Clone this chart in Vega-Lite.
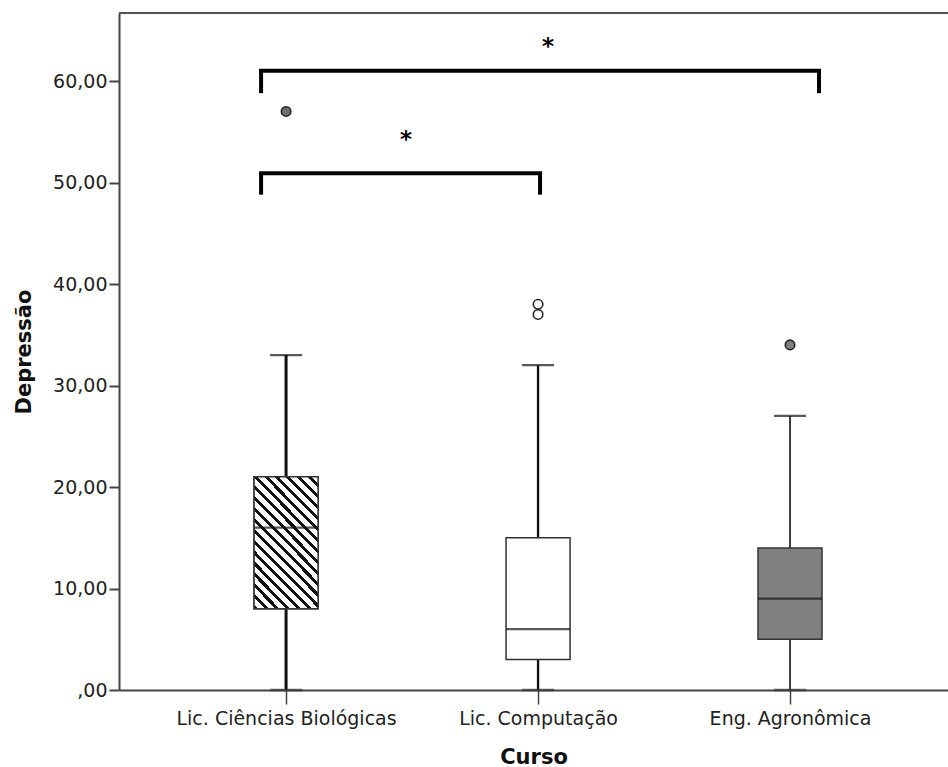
{
  "$schema": "https://vega.github.io/schema/vega-lite/v6.json",
  "width": 829,
  "height": 677,
  "autosize": {"type": "none"},
  "padding": {"left": 119, "top": 13, "right": 0, "bottom": 77},
  "background": "white",
  "resolve": {"scale": {"fill": "independent"}},
  "config": {
    "view": {"stroke": null},
    "axis": {"grid": false},
    "axisX": {
      "domainColor": "#444", "domainWidth": 2,
      "tickColor": "#444", "tickWidth": 1.5, "tickSize": 14,
      "labelFont": "DejaVu Sans", "labelFontSize": 19, "labelColor": "#222", "labelPadding": 5, "labelAngle": 0, "labelLimit": 0,
      "titleFont": "DejaVu Sans", "titleFontSize": 21, "titleFontWeight": "bold", "titleColor": "#111", "titlePadding": 18
    },
    "axisY": {
      "domainColor": "#444", "domainWidth": 2,
      "tickColor": "#444", "tickWidth": 2, "tickSize": 10,
      "labelFont": "DejaVu Sans", "labelFontSize": 19, "labelColor": "#222", "labelPadding": 2,
      "labelExpr": "datum.value === 0 ? ',00' : format(datum.value, 'd') + ',00'",
      "titleFont": "DejaVu Sans", "titleFontSize": 21, "titleFontWeight": "bold", "titleColor": "#111", "titlePadding": 18
    }
  },
  "datasets": {
    "boxes": [
      {"curso": "Lic. Ciências Biológicas", "minimo": 0, "q1": 8, "mediana": 16, "q3": 21, "maximo": 33},
      {"curso": "Lic. Computação", "minimo": 0, "q1": 3, "mediana": 6, "q3": 15, "maximo": 32},
      {"curso": "Eng. Agronômica", "minimo": 0, "q1": 5, "mediana": 9, "q3": 14, "maximo": 27}
    ],
    "outliers": [
      {"curso": "Lic. Ciências Biológicas", "valor": 57, "tipo": "extremo"},
      {"curso": "Lic. Computação", "valor": 37, "tipo": "atípico"},
      {"curso": "Lic. Computação", "valor": 38, "tipo": "atípico"},
      {"curso": "Eng. Agronômica", "valor": 34, "tipo": "atípico"}
    ],
    "brackets": [
      {"curso": "Lic. Ciências Biológicas", "ate": "Eng. Agronômica", "topo": 61, "base": 58.8, "rotulo": "*", "rotulo_y": 62.7},
      {"curso": "Lic. Ciências Biológicas", "ate": "Lic. Computação", "topo": 50.9, "base": 48.8, "rotulo": "*", "rotulo_y": 53.5}
    ]
  },
  "layer": [
    {
      "data": {"name": "boxes"},
      "mark": {"type": "rule", "color": "#555", "strokeWidth": 2},
      "encoding": {
        "y": {"datum": 66.7, "type": "quantitative", "scale": {"domain": [0, 66.7], "nice": false, "zero": true}, "title": "Depressão", "axis": {"values": [0, 10, 20, 30, 40, 50, 60]}}
      }
    },
    {
      "data": {"name": "boxes"},
      "mark": {"type": "rule", "color": "#111"},
      "encoding": {
        "x": {"field": "curso", "type": "nominal", "title": "Curso", "scale": {"type": "point", "domain": ["Lic. Ciências Biológicas", "Lic. Computação", "Eng. Agronômica"], "padding": 0.645, "align": 0.514}},
        "y": {"field": "minimo", "type": "quantitative", "scale": {"domain": [0, 66.7], "nice": false, "zero": true}, "title": "Depressão", "axis": {"values": [0, 10, 20, 30, 40, 50, 60]}},
        "y2": {"field": "maximo"},
        "strokeWidth": {"field": "curso", "type": "nominal", "scale": {"domain": ["Lic. Ciências Biológicas", "Lic. Computação", "Eng. Agronômica"], "range": [3, 1.6, 1.6]}, "legend": null}
      }
    },
    {
      "data": {"name": "boxes"},
      "mark": {"type": "tick", "color": "#111", "size": 32, "thickness": 2.2, "orient": "horizontal"},
      "encoding": {
        "x": {"field": "curso", "type": "nominal", "title": "Curso", "scale": {"type": "point", "domain": ["Lic. Ciências Biológicas", "Lic. Computação", "Eng. Agronômica"], "padding": 0.645, "align": 0.514}},
        "y": {"field": "maximo", "type": "quantitative", "scale": {"domain": [0, 66.7], "nice": false, "zero": true}, "title": "Depressão", "axis": {"values": [0, 10, 20, 30, 40, 50, 60]}}
      }
    },
    {
      "data": {"name": "boxes"},
      "mark": {"type": "tick", "color": "#333", "size": 32, "thickness": 2.5, "orient": "horizontal"},
      "encoding": {
        "x": {"field": "curso", "type": "nominal", "title": "Curso", "scale": {"type": "point", "domain": ["Lic. Ciências Biológicas", "Lic. Computação", "Eng. Agronômica"], "padding": 0.645, "align": 0.514}},
        "y": {"field": "minimo", "type": "quantitative", "scale": {"domain": [0, 66.7], "nice": false, "zero": true}, "title": "Depressão", "axis": {"values": [0, 10, 20, 30, 40, 50, 60]}}
      }
    },
    {
      "data": {"name": "boxes"},
      "mark": {"type": "bar", "size": 64, "stroke": "#333", "strokeWidth": 1.5},
      "encoding": {
        "x": {"field": "curso", "type": "nominal", "title": "Curso", "scale": {"type": "point", "domain": ["Lic. Ciências Biológicas", "Lic. Computação", "Eng. Agronômica"], "padding": 0.645, "align": 0.514}},
        "y": {"field": "q1", "type": "quantitative", "scale": {"domain": [0, 66.7], "nice": false, "zero": true}, "title": "Depressão", "axis": {"values": [0, 10, 20, 30, 40, 50, 60]}},
        "y2": {"field": "q3"},
        "fill": {"field": "curso", "type": "nominal", "scale": {"domain": ["Lic. Ciências Biológicas", "Lic. Computação", "Eng. Agronômica"], "range": ["#ffffff", "#ffffff", "#808080"]}, "legend": null}
      }
    },
    {
      "data": {"name": "boxes"},
      "transform": [{"filter": "datum.curso === 'Lic. Ciências Biológicas'"}],
      "mark": {
        "type": "bar", "size": 64, "stroke": "#333", "strokeWidth": 1.5,
        "fill": {
          "gradient": "linear", "x1": 0, "y1": 1, "x2": 0.59, "y2": -0.2,
          "stops": [
            {"offset": 0, "color": "#111"}, {"offset": 0.0211, "color": "#111"}, {"offset": 0.0211, "color": "#fff"}, {"offset": 0.0556, "color": "#fff"},
            {"offset": 0.0556, "color": "#111"}, {"offset": 0.0767, "color": "#111"}, {"offset": 0.0767, "color": "#fff"}, {"offset": 0.1111, "color": "#fff"},
            {"offset": 0.1111, "color": "#111"}, {"offset": 0.1322, "color": "#111"}, {"offset": 0.1322, "color": "#fff"}, {"offset": 0.1667, "color": "#fff"},
            {"offset": 0.1667, "color": "#111"}, {"offset": 0.1878, "color": "#111"}, {"offset": 0.1878, "color": "#fff"}, {"offset": 0.2222, "color": "#fff"},
            {"offset": 0.2222, "color": "#111"}, {"offset": 0.2433, "color": "#111"}, {"offset": 0.2433, "color": "#fff"}, {"offset": 0.2778, "color": "#fff"},
            {"offset": 0.2778, "color": "#111"}, {"offset": 0.2989, "color": "#111"}, {"offset": 0.2989, "color": "#fff"}, {"offset": 0.3333, "color": "#fff"},
            {"offset": 0.3333, "color": "#111"}, {"offset": 0.3544, "color": "#111"}, {"offset": 0.3544, "color": "#fff"}, {"offset": 0.3889, "color": "#fff"},
            {"offset": 0.3889, "color": "#111"}, {"offset": 0.41, "color": "#111"}, {"offset": 0.41, "color": "#fff"}, {"offset": 0.4444, "color": "#fff"},
            {"offset": 0.4444, "color": "#111"}, {"offset": 0.4655, "color": "#111"}, {"offset": 0.4655, "color": "#fff"}, {"offset": 0.5, "color": "#fff"},
            {"offset": 0.5, "color": "#111"}, {"offset": 0.5211, "color": "#111"}, {"offset": 0.5211, "color": "#fff"}, {"offset": 0.5556, "color": "#fff"},
            {"offset": 0.5556, "color": "#111"}, {"offset": 0.5767, "color": "#111"}, {"offset": 0.5767, "color": "#fff"}, {"offset": 0.6111, "color": "#fff"},
            {"offset": 0.6111, "color": "#111"}, {"offset": 0.6322, "color": "#111"}, {"offset": 0.6322, "color": "#fff"}, {"offset": 0.6667, "color": "#fff"},
            {"offset": 0.6667, "color": "#111"}, {"offset": 0.6878, "color": "#111"}, {"offset": 0.6878, "color": "#fff"}, {"offset": 0.7222, "color": "#fff"},
            {"offset": 0.7222, "color": "#111"}, {"offset": 0.7433, "color": "#111"}, {"offset": 0.7433, "color": "#fff"}, {"offset": 0.7778, "color": "#fff"},
            {"offset": 0.7778, "color": "#111"}, {"offset": 0.7989, "color": "#111"}, {"offset": 0.7989, "color": "#fff"}, {"offset": 0.8333, "color": "#fff"},
            {"offset": 0.8333, "color": "#111"}, {"offset": 0.8544, "color": "#111"}, {"offset": 0.8544, "color": "#fff"}, {"offset": 0.8889, "color": "#fff"},
            {"offset": 0.8889, "color": "#111"}, {"offset": 0.91, "color": "#111"}, {"offset": 0.91, "color": "#fff"}, {"offset": 0.9444, "color": "#fff"},
            {"offset": 0.9444, "color": "#111"}, {"offset": 0.9655, "color": "#111"}, {"offset": 0.9655, "color": "#fff"}, {"offset": 1, "color": "#fff"}
          ]
        }
      },
      "encoding": {
        "x": {"field": "curso", "type": "nominal", "title": "Curso", "scale": {"type": "point", "domain": ["Lic. Ciências Biológicas", "Lic. Computação", "Eng. Agronômica"], "padding": 0.645, "align": 0.514}},
        "y": {"field": "q1", "type": "quantitative", "scale": {"domain": [0, 66.7], "nice": false, "zero": true}, "title": "Depressão", "axis": {"values": [0, 10, 20, 30, 40, 50, 60]}},
        "y2": {"field": "q3"}
      }
    },
    {
      "data": {"name": "boxes"},
      "mark": {"type": "tick", "color": "#111", "size": 64, "thickness": 2.2, "orient": "horizontal"},
      "encoding": {
        "x": {"field": "curso", "type": "nominal", "title": "Curso", "scale": {"type": "point", "domain": ["Lic. Ciências Biológicas", "Lic. Computação", "Eng. Agronômica"], "padding": 0.645, "align": 0.514}},
        "y": {"field": "mediana", "type": "quantitative", "scale": {"domain": [0, 66.7], "nice": false, "zero": true}, "title": "Depressão", "axis": {"values": [0, 10, 20, 30, 40, 50, 60]}}
      }
    },
    {
      "data": {"name": "outliers"},
      "mark": {"type": "point", "shape": "circle", "filled": true, "size": 90, "stroke": "#222", "strokeWidth": 1.6, "strokeOpacity": 1, "opacity": 1},
      "encoding": {
        "x": {"field": "curso", "type": "nominal", "title": "Curso", "scale": {"type": "point", "domain": ["Lic. Ciências Biológicas", "Lic. Computação", "Eng. Agronômica"], "padding": 0.645, "align": 0.514}},
        "y": {"field": "valor", "type": "quantitative", "scale": {"domain": [0, 66.7], "nice": false, "zero": true}, "title": "Depressão", "axis": {"values": [0, 10, 20, 30, 40, 50, 60]}},
        "fill": {"field": "curso", "type": "nominal", "scale": {"domain": ["Lic. Ciências Biológicas", "Lic. Computação", "Eng. Agronômica"], "range": ["#6e6e6e", "#ffffff", "#808080"]}, "legend": null}
      }
    },
    {
      "data": {"name": "brackets"},
      "transform": [{"filter": "datum.ate === 'Eng. Agronômica'"}],
      "mark": {"type": "rule", "color": "#000", "strokeWidth": 4, "strokeCap": "square", "xOffset": -25, "x2Offset": 29},
      "encoding": {
        "x": {"field": "curso", "type": "nominal", "title": "Curso", "scale": {"type": "point", "domain": ["Lic. Ciências Biológicas", "Lic. Computação", "Eng. Agronômica"], "padding": 0.645, "align": 0.514}},
        "x2": {"field": "ate"},
        "y": {"field": "topo", "type": "quantitative", "scale": {"domain": [0, 66.7], "nice": false, "zero": true}, "title": "Depressão", "axis": {"values": [0, 10, 20, 30, 40, 50, 60]}}
      }
    },
    {
      "data": {"name": "brackets"},
      "transform": [{"filter": "datum.ate === 'Lic. Computação'"}],
      "mark": {"type": "rule", "color": "#000", "strokeWidth": 4, "strokeCap": "square", "xOffset": -25, "x2Offset": 2},
      "encoding": {
        "x": {"field": "curso", "type": "nominal", "title": "Curso", "scale": {"type": "point", "domain": ["Lic. Ciências Biológicas", "Lic. Computação", "Eng. Agronômica"], "padding": 0.645, "align": 0.514}},
        "x2": {"field": "ate"},
        "y": {"field": "topo", "type": "quantitative", "scale": {"domain": [0, 66.7], "nice": false, "zero": true}, "title": "Depressão", "axis": {"values": [0, 10, 20, 30, 40, 50, 60]}}
      }
    },
    {
      "data": {"name": "brackets"},
      "mark": {"type": "rule", "color": "#000", "strokeWidth": 4, "xOffset": -25},
      "encoding": {
        "x": {"field": "curso", "type": "nominal", "title": "Curso", "scale": {"type": "point", "domain": ["Lic. Ciências Biológicas", "Lic. Computação", "Eng. Agronômica"], "padding": 0.645, "align": 0.514}},
        "y": {"field": "base", "type": "quantitative", "scale": {"domain": [0, 66.7], "nice": false, "zero": true}, "title": "Depressão", "axis": {"values": [0, 10, 20, 30, 40, 50, 60]}},
        "y2": {"field": "topo"}
      }
    },
    {
      "data": {"name": "brackets"},
      "transform": [{"filter": "datum.ate === 'Eng. Agronômica'"}],
      "mark": {"type": "rule", "color": "#000", "strokeWidth": 4, "xOffset": 29},
      "encoding": {
        "x": {"field": "ate", "type": "nominal", "title": "Curso", "scale": {"type": "point", "domain": ["Lic. Ciências Biológicas", "Lic. Computação", "Eng. Agronômica"], "padding": 0.645, "align": 0.514}},
        "y": {"field": "base", "type": "quantitative", "scale": {"domain": [0, 66.7], "nice": false, "zero": true}, "title": "Depressão", "axis": {"values": [0, 10, 20, 30, 40, 50, 60]}},
        "y2": {"field": "topo"}
      }
    },
    {
      "data": {"name": "brackets"},
      "transform": [{"filter": "datum.ate === 'Lic. Computação'"}],
      "mark": {"type": "rule", "color": "#000", "strokeWidth": 4, "xOffset": 2},
      "encoding": {
        "x": {"field": "ate", "type": "nominal", "title": "Curso", "scale": {"type": "point", "domain": ["Lic. Ciências Biológicas", "Lic. Computação", "Eng. Agronômica"], "padding": 0.645, "align": 0.514}},
        "y": {"field": "base", "type": "quantitative", "scale": {"domain": [0, 66.7], "nice": false, "zero": true}, "title": "Depressão", "axis": {"values": [0, 10, 20, 30, 40, 50, 60]}},
        "y2": {"field": "topo"}
      }
    },
    {
      "data": {"name": "brackets"},
      "transform": [{"filter": "datum.ate === 'Eng. Agronômica'"}],
      "mark": {"type": "text", "font": "DejaVu Sans", "fontSize": 23, "fontWeight": "bold", "color": "#000", "align": "center", "baseline": "alphabetic", "dx": 10},
      "encoding": {
        "x": {"datum": "Lic. Computação", "type": "nominal", "title": "Curso", "scale": {"type": "point", "domain": ["Lic. Ciências Biológicas", "Lic. Computação", "Eng. Agronômica"], "padding": 0.645, "align": 0.514}},
        "y": {"field": "rotulo_y", "type": "quantitative", "scale": {"domain": [0, 66.7], "nice": false, "zero": true}, "title": "Depressão", "axis": {"values": [0, 10, 20, 30, 40, 50, 60]}},
        "text": {"field": "rotulo"}
      }
    },
    {
      "data": {"name": "brackets"},
      "transform": [{"filter": "datum.ate === 'Lic. Computação'"}],
      "mark": {"type": "text", "font": "DejaVu Sans", "fontSize": 23, "fontWeight": "bold", "color": "#000", "align": "center", "baseline": "alphabetic", "dx": 120},
      "encoding": {
        "x": {"field": "curso", "type": "nominal", "title": "Curso", "scale": {"type": "point", "domain": ["Lic. Ciências Biológicas", "Lic. Computação", "Eng. Agronômica"], "padding": 0.645, "align": 0.514}},
        "y": {"field": "rotulo_y", "type": "quantitative", "scale": {"domain": [0, 66.7], "nice": false, "zero": true}, "title": "Depressão", "axis": {"values": [0, 10, 20, 30, 40, 50, 60]}},
        "text": {"field": "rotulo"}
      }
    }
  ]
}
